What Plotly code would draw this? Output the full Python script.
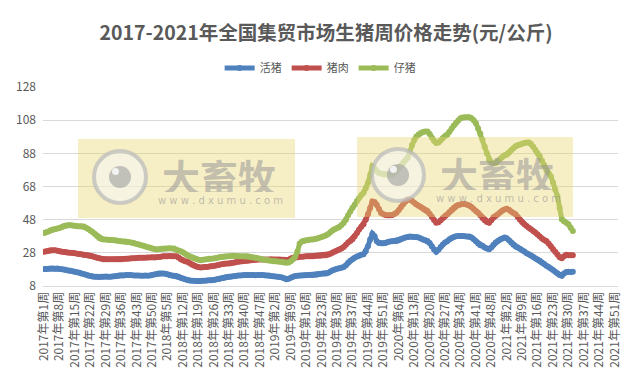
import plotly.graph_objects as go

# ---------------- data ----------------
years = [2017, 2018, 2019, 2020, 2021]
weeks_per_year = [52, 52, 52, 53, 52]

live_pig = [  # 活猪
    18.2, 18.3, 18.4, 18.5, 18.5, 18.4, 18.5, 18.3, 18.1, 17.9,
    17.6, 17.4, 17.2, 16.9, 16.6, 16.3, 16.0, 15.6, 15.2, 14.8,
    14.4, 14.1, 13.8, 13.6, 13.6, 13.5, 13.6, 13.6, 13.7, 13.6,
    13.6, 13.7, 13.9, 14.1, 14.3, 14.5, 14.4, 14.6, 14.6, 14.6,
    14.5, 14.4, 14.3, 14.3, 14.2, 14.2, 14.3, 14.2, 14.4, 14.7, 15.0, 15.3,
    15.5, 15.6, 15.6, 15.4, 15.1, 14.7, 14.3, 14.2, 14.0, 13.6,
    13.0, 12.5, 12.0, 11.6, 11.3, 11.2, 11.1, 11.0, 11.0, 11.0,
    11.2, 11.1, 11.3, 11.4, 11.5, 11.6, 11.9, 12.2, 12.5, 12.8,
    13.1, 13.4, 13.6, 13.8, 13.9, 14.1, 14.3, 14.4, 14.5, 14.6,
    14.6, 14.7, 14.6, 14.6, 14.5, 14.6, 14.6, 14.6, 14.5, 14.4, 14.3, 14.1,
    13.9, 13.7, 13.6, 13.5, 13.2, 12.6, 12.0, 12.3, 13.0, 13.6,
    14.0, 14.2, 14.3, 14.4, 14.5, 14.5, 14.6, 14.6, 14.6, 14.8,
    15.0, 15.2, 15.4, 15.5, 15.6, 16.0, 16.8, 17.5, 18.0, 18.4,
    18.7, 19.0, 19.5, 20.5, 22.0, 23.2, 24.2, 25.0, 25.8, 26.3,
    26.8, 27.2, 29.0, 32.0, 36.0, 39.5, 38.0, 35.0, 34.0, 33.8, 33.8, 34.0,
    34.5, 34.8, 35.0, 35.2, 35.2, 35.6, 36.2, 36.8, 37.2, 37.6,
    37.8, 37.7, 37.6, 37.6, 37.2, 36.6, 36.0, 35.6, 35.2, 34.0,
    32.0, 30.0, 28.6, 29.8, 31.5, 33.0, 34.3, 35.0, 36.2, 37.0,
    37.6, 38.0, 38.2, 38.2, 38.1, 38.0, 37.9, 37.8, 37.2, 36.2,
    35.0, 33.6, 32.6, 32.2, 31.2, 30.6, 30.2, 31.2, 32.8, 34.2, 35.2, 36.0, 36.6,
    37.2, 36.8, 35.6, 34.2, 32.8, 31.8, 31.2, 30.4, 29.6, 28.8,
    27.8, 27.2, 26.4, 25.6, 24.8, 24.0, 23.2, 22.2, 21.2, 20.2,
    19.4, 18.6, 17.6, 16.6, 15.6, 14.6, 14.2, 15.6, 16.4, 16.6, 16.5, 16.6,
]

pork = [  # 猪肉
    28.6, 28.9, 29.2, 29.5, 29.6, 29.6, 29.3, 29.0, 28.7, 28.5,
    28.3, 28.1, 28.0, 27.9, 27.7, 27.5, 27.3, 27.1, 26.9, 26.7,
    26.6, 26.3, 25.9, 25.5, 25.1, 24.7, 24.4, 24.2, 24.2, 24.1,
    24.2, 24.2, 24.2, 24.2, 24.2, 24.2, 24.3, 24.4, 24.5, 24.6,
    24.7, 24.8, 24.9, 25.0, 25.0, 25.1, 25.1, 25.2, 25.2, 25.3, 25.2, 25.3,
    25.5, 25.7, 25.9, 26.0, 26.0, 26.1, 26.0, 26.0, 26.0, 25.2,
    24.2, 23.6, 23.0, 22.6, 21.8, 21.0, 20.4, 19.8, 19.4, 19.2,
    19.3, 19.4, 19.5, 19.7, 19.9, 20.0, 20.3, 20.6, 20.9, 21.2,
    21.4, 21.5, 21.6, 21.8, 22.0, 22.3, 22.6, 22.8, 23.0, 23.1,
    23.2, 23.4, 23.6, 23.8, 23.9, 24.0, 24.0, 24.0, 24.0, 24.0, 24.0, 24.1,
    24.0, 24.0, 24.0, 24.0, 23.9, 23.8, 23.6, 23.9, 24.6, 25.0,
    25.2, 25.4, 25.6, 25.7, 25.8, 25.9, 26.0, 26.0, 26.0, 26.1,
    26.2, 26.3, 26.4, 26.5, 26.6, 27.0, 27.5, 28.2, 28.8, 29.4,
    30.0, 30.6, 31.5, 32.8, 34.2, 35.2, 36.2, 38.0, 40.0, 42.0,
    43.8, 45.2, 48.0, 51.2, 55.0, 59.0, 58.6, 57.0, 54.5, 52.0, 51.2, 50.8,
    50.6, 50.6, 50.8, 51.4, 52.2, 53.8, 55.6, 57.4, 59.0, 60.2,
    60.0, 59.4, 58.2, 57.2, 56.4, 55.6, 54.8, 54.0, 53.2, 51.6,
    49.8, 47.8, 46.2, 46.4, 47.6, 49.0, 50.2, 51.2, 52.6, 54.0,
    55.2, 56.2, 56.8, 57.2, 57.4, 57.4, 57.0, 56.6, 55.6, 54.4,
    53.2, 52.2, 50.6, 49.0, 47.6, 46.6, 46.2, 47.6, 49.4, 50.4, 51.2, 52.4, 53.6,
    54.2, 54.6, 54.0, 53.0, 52.0, 51.2, 49.6, 48.0, 46.4, 45.2,
    44.2, 43.2, 42.2, 41.2, 40.2, 39.0, 37.8, 36.6, 35.8, 35.2,
    33.6, 32.0, 30.2, 28.6, 27.0, 25.4, 24.8, 26.0, 26.8, 26.6, 26.6, 26.5,
]

piglet = [  # 仔猪
    40.0, 40.4, 40.9, 41.6, 42.1, 42.4, 42.6, 43.0, 43.6, 44.2,
    44.5, 44.6, 44.6, 44.5, 44.3, 44.1, 44.0, 44.0, 43.9, 43.2,
    42.4, 41.5, 40.6, 39.4, 38.2, 37.0, 36.3, 36.0, 36.0, 35.9,
    35.8, 35.7, 35.6, 35.4, 35.2, 35.0, 34.9, 34.8, 34.6, 34.4,
    34.1, 33.8, 33.4, 33.0, 32.6, 32.2, 31.8, 31.4, 31.0, 30.6, 30.3, 30.0,
    30.2, 30.4, 30.5, 30.6, 30.6, 30.7, 30.6, 30.6, 29.9, 29.4,
    29.0, 28.4, 27.5, 26.6, 26.0, 25.4, 24.8, 24.3, 23.9, 23.6,
    23.8, 24.0, 24.2, 24.4, 24.5, 24.6, 24.9, 25.2, 25.5, 25.7,
    25.8, 25.9, 26.0, 26.1, 26.2, 26.1, 26.0, 26.0, 26.0, 26.0,
    26.0, 25.8, 25.5, 25.2, 25.0, 24.7, 24.4, 24.0, 23.8, 23.6, 23.4, 23.2,
    23.0, 22.9, 22.8, 22.6, 22.4, 22.2, 22.0, 22.2, 23.0, 24.2,
    25.6, 28.8, 33.6, 34.8, 35.3, 35.6, 35.8, 36.0, 36.0, 36.3,
    36.7, 37.1, 37.5, 38.0, 38.6, 39.4, 40.5, 41.6, 42.4, 43.0,
    43.6, 44.8, 46.2, 48.0, 50.6, 53.0, 55.2, 57.2, 59.2, 61.0,
    62.8, 64.2, 67.0, 70.2, 75.0, 80.2, 79.0, 77.2, 76.2, 75.8, 75.4, 75.2,
    75.2, 75.2, 75.2, 76.4, 77.8, 79.2, 80.6, 82.2, 83.8, 85.2,
    89.0, 93.0, 96.0, 98.2, 99.4, 100.2, 100.8, 101.2, 101.2, 99.6,
    97.4, 95.4, 94.2, 94.6, 95.8, 97.2, 98.4, 99.2, 101.0, 103.0,
    104.8, 106.4, 107.8, 109.2, 109.6, 109.8, 109.8, 109.8, 109.2, 108.0,
    106.2, 103.0, 99.8, 96.2, 92.0, 88.0, 84.2, 82.6, 82.2, 82.2, 83.4, 84.6, 85.8,
    86.8, 87.2, 88.4, 89.8, 91.0, 92.2, 92.8, 93.4, 93.8, 94.2,
    94.6, 94.6, 93.6, 92.0, 90.0, 88.0, 86.2, 83.6, 81.0, 78.0,
    76.0, 74.2, 70.4, 66.2, 62.2, 55.0, 48.2, 47.0, 46.2, 45.2, 43.2, 41.2,
]

y_ticks = [8, 28, 48, 68, 88, 108, 128]

# ---------------- categories ----------------
categories = []
for yr, nw in zip(years, weeks_per_year):
    for w in range(1, nw + 1):
        categories.append(f"{yr}年第{w}周")
tick_labels = categories[::7]

series = [
    ("活猪", live_pig, "#4F81BD"),
    ("猪肉", pork, "#C0504D"),
    ("仔猪", piglet, "#9BBB59"),
]

FONT = "Noto Sans CJK SC"
W, H = 638, 374
L, R, T, B = 43, 20, 87, 88


def px(x, y):
    return (x - L) / (W - L - R), (H - B - y) / (H - T - B)


fig = go.Figure()
for name, vals, color in series:
    fig.add_trace(go.Scatter(
        x=categories[:len(vals)], y=vals, name=name, mode="lines+markers",
        line=dict(color=color, width=5),
        marker=dict(color=color, size=6),
    ))

shapes = []
annotations = []
for (bx0, bx1, by0, by1, cx, cy, tx, ty) in [
    (78, 295, 139, 218, 120, 177, 219, 175),
    (357, 573, 137, 217, 398, 175, 497, 173),
]:
    x0, y0 = px(bx0, by1)
    x1, y1 = px(bx1, by0)
    shapes.append(dict(type="rect", xref="paper", yref="paper", x0=x0, x1=x1, y0=y0, y1=y1,
                       fillcolor="rgba(232,214,110,0.40)", line=dict(width=0), layer="above"))
    a0, b0 = px(cx - 26, cy + 26)
    a1, b1 = px(cx + 26, cy - 26)
    shapes.append(dict(type="circle", xref="paper", yref="paper", x0=a0, x1=a1, y0=b0, y1=b1,
                       fillcolor="rgba(245,245,245,0.55)", line=dict(color="rgba(185,185,185,0.7)", width=4),
                       layer="above"))
    a0, b0 = px(cx - 11, cy + 11)
    a1, b1 = px(cx + 11, cy - 11)
    shapes.append(dict(type="circle", xref="paper", yref="paper", x0=a0, x1=a1, y0=b0, y1=b1,
                       fillcolor="rgba(165,165,165,0.65)", line=dict(width=0), layer="above"))
    a0, b0 = px(cx - 8, cy - 2)
    a1, b1 = px(cx - 1, cy - 9)
    shapes.append(dict(type="circle", xref="paper", yref="paper", x0=a0, x1=a1, y0=b0, y1=b1,
                       fillcolor="rgba(255,255,255,0.8)", line=dict(width=0), layer="above"))
    ax_, ay_ = px(tx, ty)
    annotations.append(dict(text="<b>大畜牧</b>", xref="paper", yref="paper", x=ax_, y=ay_,
                            xanchor="center", yanchor="middle",
                            height=33, showarrow=False,
                            font=dict(family=FONT, size=38, color="rgba(150,150,150,0.55)")))
    ax_, ay_ = px(tx + 1, ty + 25)
    annotations.append(dict(text="w w w . d x u m u . c o m", xref="paper", yref="paper", x=ax_, y=ay_,
                            xanchor="center", yanchor="middle",
                            height=10, showarrow=False,
                            font=dict(family="DejaVu Sans", size=10, color="rgba(150,150,150,0.6)")))

fig.update_layout(
    width=W, height=H,
    margin=dict(l=L, r=R, t=T, b=B, autoexpand=False),
    paper_bgcolor="white", plot_bgcolor="white",
    font=dict(family=FONT, color="#595959"),
    title=dict(text="<b>2017-2021年全国集贸市场生猪周价格走势(元/公斤)</b>",
               x=326 / W, xref="container", xanchor="center",
               y=1 - 33 / H, yref="container", yanchor="middle",
               font=dict(family=FONT, size=19.5, color="#595959")),
    legend=dict(orientation="h", x=0.482, xanchor="center", y=px(0, 68)[1], yanchor="middle",
                font=dict(family=FONT, size=11, color="#595959"), itemwidth=30,
                bgcolor="rgba(0,0,0,0)"),
    xaxis=dict(type="category", categoryorder="array", categoryarray=categories,
               range=[-0.5, len(categories) - 0.5], automargin=False,
               tickmode="array", tickvals=tick_labels, ticktext=tick_labels,
               tickangle=-90, tickfont=dict(family=FONT, size=12, color="#595959"),
               showgrid=False, showline=True, linecolor="#D9D9D9", ticks=""),
    yaxis=dict(range=[8, 128], tickmode="array", tickvals=y_ticks, automargin=False,
               tickfont=dict(family=FONT, size=12, color="#595959"),
               showgrid=True, gridcolor="#D9D9D9", gridwidth=1, zeroline=False,
               showline=False, ticks="", ticklabelstandoff=6),
    shapes=shapes, annotations=annotations,
)

fig.write_html("out.html", config={"displayModeBar": False},
               post_script="document.body.style.margin='0';")
